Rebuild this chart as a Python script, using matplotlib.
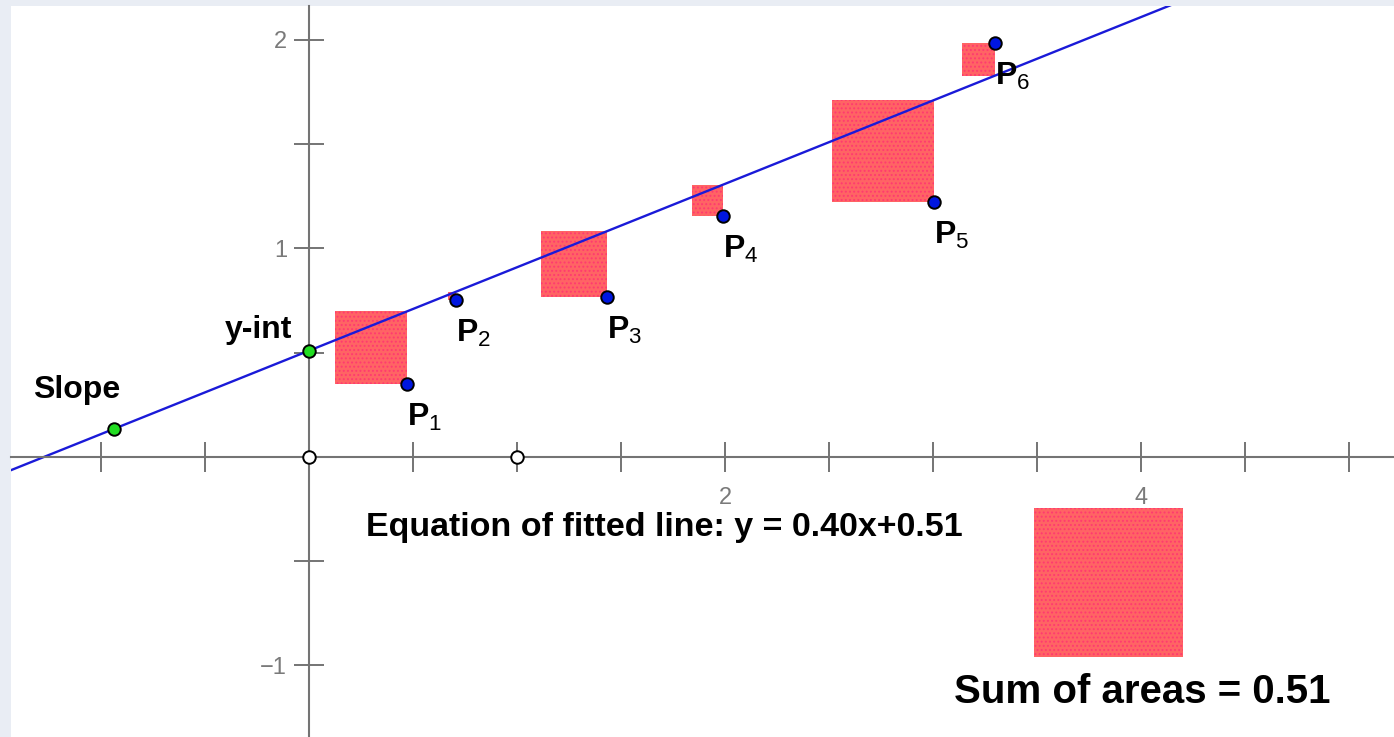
import numpy as np
import matplotlib
matplotlib.use("Agg")
import matplotlib.pyplot as plt
from matplotlib.patches import Rectangle
from matplotlib.ticker import MultipleLocator, FuncFormatter

plt.rcParams['font.family'] = ['Liberation Sans', 'DejaVu Sans']
plt.rcParams['mathtext.fontset'] = 'custom'
plt.rcParams['mathtext.rm'] = 'Liberation Sans'
plt.rcParams['mathtext.bf'] = 'Liberation Sans:bold'
plt.rcParams['hatch.linewidth'] = 0.9

# data points
point_names = ['1', '2', '3', '4', '5', '6']
point_x = [0.471, 0.707, 1.433, 1.990, 3.005, 3.298]
point_y = [0.350, 0.753, 0.767, 1.156, 1.223, 1.986]

# fitted line as shown
slope = 0.40
intercept = 0.51
slope_handle_x = -0.94

# labels shown on each axis
x_label_values = [2, 4]
y_label_values = [-1, 1, 2]


def tick_text(v, wanted):
    if any(abs(v - t) < 1e-6 for t in wanted):
        return str(int(round(v))).replace('-', '\u2212')
    return ''


fig = plt.figure(figsize=(13.94, 7.37), dpi=100)
fig.patch.set_facecolor('#e9edf4')
ax = fig.add_axes([11 / 1394, 0, 1383 / 1394, 731 / 737])
ax.set_facecolor('white')
ax.set_xlim(-1.433, 5.216)
ax.set_ylim(-1.343, 2.163)

axis_col = '#747474'
for side in ['top', 'right']:
    ax.spines[side].set_visible(False)
for side in ['left', 'bottom']:
    ax.spines[side].set_position(('data', 0))
    ax.spines[side].set_color(axis_col)
    ax.spines[side].set_linewidth(1.5)

ax.xaxis.set_major_locator(MultipleLocator(0.5))
ax.yaxis.set_major_locator(MultipleLocator(0.5))
ax.xaxis.set_major_formatter(FuncFormatter(lambda v, p: tick_text(v, x_label_values)))
ax.yaxis.set_major_formatter(FuncFormatter(lambda v, p: tick_text(v, y_label_values)))
ax.tick_params(axis='both', direction='inout', length=21.6, width=1.4, color=axis_col,
               labelcolor='#7a7a7a', labelsize=17)
ax.tick_params(axis='x', pad=11)
ax.tick_params(axis='y', pad=5)

# residual squares
for px, py in zip(point_x, point_y):
    yl = slope * px + intercept
    side = abs(yl - py)
    ax.add_patch(Rectangle((px - side, min(py, yl)), side, side, facecolor='#ff6464',
                           edgecolor='#ff3a70', linewidth=0, hatch='....', zorder=1))

# square for sum of areas
total = sum((slope * px + intercept - py) ** 2 for px, py in zip(point_x, point_y))
side = np.sqrt(total)
ax.add_patch(Rectangle((3.486, -0.245 - side), side, side, facecolor='#ff6464',
                       edgecolor='#ff3a70', linewidth=0, hatch='....', zorder=1))

xs = np.array(ax.get_xlim())
ax.plot(xs, slope * xs + intercept, color='#1a1ad8', lw=1.7, zorder=2)

ax.plot(point_x, point_y, 'o', ms=9, mfc='#0016e0', mec='black', mew=1.4, zorder=4)
ax.plot([slope_handle_x, 0], [slope * slope_handle_x + intercept, intercept], 'o', ms=9,
        mfc='#22dd22', mec='black', mew=1.4, zorder=4)
ax.plot([0, 1], [0, 0], 'o', ms=9, mfc='white', mec='black', mew=1.4, zorder=4)

for name, px, py in zip(point_names, point_x, point_y):
    ax.annotate(r'$\mathbf{P}_{\mathrm{%s}}$' % name, (px, py), xytext=(0, -18),
                textcoords='offset pixels', ha='left', va='top', fontsize=23, zorder=5)

ax.text(-0.08, 0.61, 'y-int', ha='right', va='center', fontsize=23, fontweight='bold')
ax.text(-1.115, 0.32, 'Slope', ha='center', va='center', fontsize=23, fontweight='bold')
ax.text(0.274, -0.34, 'Equation of fitted line: y = %.2fx+%.2f' % (slope, intercept),
        ha='left', va='center', fontsize=24.5, fontweight='bold')
ax.text(4.005, -1.127, 'Sum of areas = %.2f' % total, ha='center', va='center',
        fontsize=29, fontweight='bold')

fig.savefig('out.png', dpi=100, facecolor=fig.get_facecolor())
